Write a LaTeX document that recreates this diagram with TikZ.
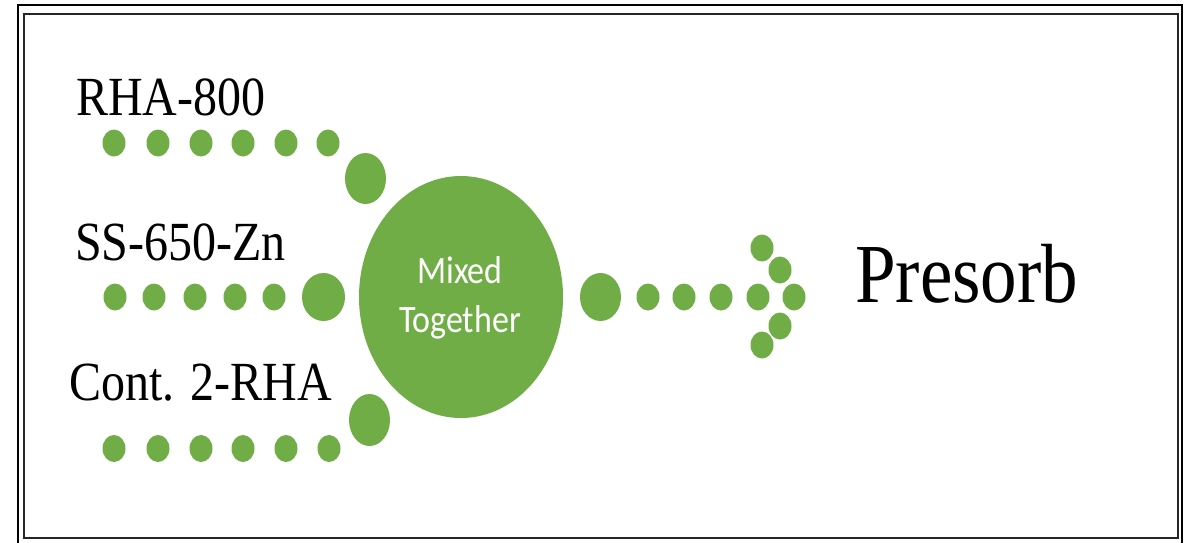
\documentclass[tikz,border=0pt]{standalone}
\usepackage{fontspec}
\setmainfont{Liberation Serif}
\newfontfamily\calib{Carlito}
\usetikzlibrary{shapes.geometric}
\definecolor{offgreen}{HTML}{70AD47}
\tikzset{
  lbl/.style={anchor=base west, inner sep=0pt, font=\fontsize{48}{50}\selectfont},
  frameline/.style={line width=1.8pt, draw=black},
}
\newcommand{\sdot}[2]{\fill[offgreen] (#1,#2) ellipse [x radius=11.5, y radius=13.5];}
\newcommand{\bdot}[4]{\fill[offgreen] (#1,#2) ellipse [x radius=#3, y radius=#4];}
\begin{document}
\begin{tikzpicture}[x=1pt,y=-1pt]
\useasboundingbox (0,0) rectangle (1184,542);
% frames
\draw[frameline] (18,545) -- (18,5) -- (1182,5) -- (1182,545);
\draw[frameline, draw=black!85] (24,14) rectangle (1178,538);
% labels
\node[lbl] (t1) at (76,115) {\scalebox{1}[1.15]{RHA-800}};
\node[lbl] (t2) at (75,260) {\scalebox{1}[1.15]{SS-650-Zn}};
\node[lbl] (t3) at (69,400) {\scalebox{1}[1.15]{Cont. 2-RHA}};
\node[anchor=base west, inner sep=0pt, font=\fontsize{73}{75}\selectfont] (pr) at (855,302) {\scalebox{1}[1.15]{Presorb}};
% central ellipse
\node[ellipse, fill=offgreen, minimum width=204pt, minimum height=242pt, inner sep=0pt] (mix) at (461,297) {};
\node[anchor=base, inner sep=0pt, text=white, font=\calib\fontsize{34}{36}\selectfont] (m1) at (460,283) {\scalebox{1}[1.14]{Mixed}};
\node[anchor=base, inner sep=0pt, text=white, font=\calib\fontsize{34}{36}\selectfont] (m2) at (460,332) {\scalebox{1}[1.14]{Together}};
% row 1
\foreach \x in {114,158,201,243,286,328} {\sdot{\x}{143}}
\bdot{365.5}{178.5}{20.5}{25.5}
% row 2
\foreach \x in {115,154,195,235,274} {\sdot{\x}{297}}
\bdot{323.5}{297}{21.5}{24}
% row 3
\foreach \x in {114,158,201,243,286,329} {\sdot{\x}{448.5}}
\bdot{369.5}{420}{20.5}{26}
% output arrow
\bdot{600.5}{297}{20.5}{24}
\foreach \x in {648,684,721,758,794} {\sdot{\x}{297}}
\sdot{762}{248}
\sdot{780}{270}
\sdot{780}{326}
\sdot{762}{345}
\end{tikzpicture}
\end{document}
